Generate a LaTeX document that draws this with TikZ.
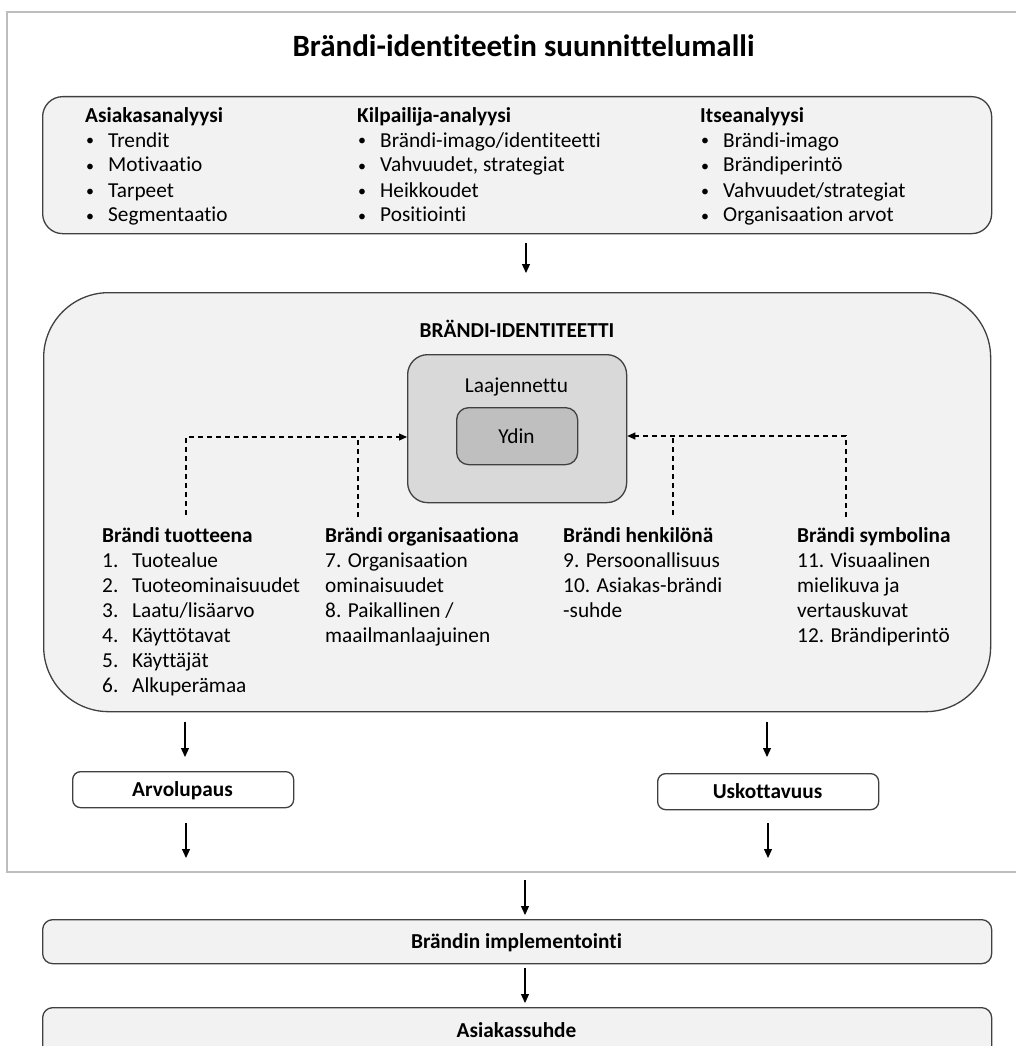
\documentclass[tikz,border=0pt]{standalone}
\usepackage{fontspec}
\setmainfont{Carlito}[Ligatures=NoCommon]
\usetikzlibrary{arrows.meta,calc}
\definecolor{panelfill}{HTML}{F2F2F2}
\definecolor{boxline}{HTML}{404040}
\definecolor{framegray}{HTML}{BDBDBD}
\definecolor{outerfill}{HTML}{D9D9D9}
\definecolor{corefill}{HTML}{BFBFBF}
\newcommand{\bul}{\makebox[23pt][l]{\hspace{1pt}\raisebox{1pt}{\fontsize{16}{16}\selectfont\textbullet}}}
\newcommand{\numit}[1]{\makebox[30pt][l]{#1}}
\begin{document}
\begin{tikzpicture}[x=1pt,y=-1pt,
  panel/.style={draw=boxline, fill=panelfill, line width=1.3pt, inner sep=0pt, anchor=north west},
  txt/.style={inner sep=0pt, anchor=base west, font=\fontsize{21.3}{25}\selectfont},
  lbl/.style={inner sep=0pt, anchor=base, font=\fontsize{21.3}{25}\selectfont\bfseries},
  arr/.style={-{Triangle[length=9pt,width=8pt]}, line width=1.2pt},
  darr/.style={-{Triangle[length=8pt,width=7pt]}, line width=1.1pt, dash pattern=on 5pt off 4pt},
  dline/.style={line width=1.1pt, dash pattern=on 5pt off 4pt}]
\useasboundingbox (0,0) rectangle (1016,1046);
\clip (0,0) rectangle (1016,1046);
\fill[white] (0,0) rectangle (1016,1046);

% outer frame, open on the right
\draw[framegray, line width=1.5pt] (1030,12) -- (7,12) -- (7,872) -- (1030,872);

% title
\node[inner sep=0pt, anchor=base, font=\fontsize{31}{36}\selectfont\bfseries] (title) at (523.5,57) {Brändi-identiteetin suunnittelumalli};

% analysis panel
\node[panel, rounded corners=20pt, minimum width=949pt, minimum height=137pt] (analysis) at (42,96) {};
\node[txt] (asiakas) at (85,122) {\begin{tabular}[t]{@{}l@{}}\textbf{Asiakasanalyysi}\\\bul Trendit\\\bul Motivaatio\\\bul Tarpeet\\\bul Segmentaatio\end{tabular}};
\node[txt] (kilpailija) at (357,122) {\begin{tabular}[t]{@{}l@{}}\textbf{Kilpailija-analyysi}\\\bul Brändi-imago/identiteetti\\\bul Vahvuudet, strategiat\\\bul Heikkoudet\\\bul Positiointi\end{tabular}};
\node[txt] (itse) at (700,122) {\begin{tabular}[t]{@{}l@{}}\textbf{Itseanalyysi}\\\bul Brändi-imago\\\bul Brändiperintö\\\bul Vahvuudet/strategiat\\\bul Organisaation arvot\end{tabular}};

% brand identity panel
\node[panel, rounded corners=65pt, minimum width=947pt, minimum height=419pt] (identity) at (43,292) {};
\node[lbl] (idtitle) at (517,337) {BRÄNDI-IDENTITEETTI};
\node[panel, fill=outerfill, rounded corners=20pt, minimum width=219pt, minimum height=148pt] (laaj) at (407,354) {};
\node[txt, anchor=base] (laajtxt) at (516.5,392) {Laajennettu};
\node[panel, fill=corefill, rounded corners=12pt, minimum width=121pt, minimum height=57pt] (ydin) at (456,407) {};
\node[txt, anchor=base] (ydintxt) at (516.5,443) {Ydin};

% four perspectives
\node[txt] (tuote) at (102,542) {\begin{tabular}[t]{@{}l@{}}\textbf{Brändi tuotteena}\\\numit{1.}Tuotealue\\\numit{2.}Tuoteominaisuudet\\\numit{3.}Laatu/lisäarvo\\\numit{4.}Käyttötavat\\\numit{5.}Käyttäjät\\\numit{6.}Alkuperämaa\end{tabular}};
\node[txt] (organ) at (325,542) {\begin{tabular}[t]{@{}l@{}}\textbf{Brändi organisaationa}\\7. Organisaation\\ominaisuudet\\8. Paikallinen /\\maailmanlaajuinen\end{tabular}};
\node[txt] (henk) at (563,542) {\begin{tabular}[t]{@{}l@{}}\textbf{Brändi henkilönä}\\9. Persoonallisuus\\10. Asiakas-brändi\\-suhde\end{tabular}};
\node[txt] (symb) at (797,542) {\begin{tabular}[t]{@{}l@{}}\textbf{Brändi symbolina}\\11. Visuaalinen\\mielikuva ja\\vertauskuvat\\12. Brändiperintö\end{tabular}};

% dashed feeds into the extended identity
\coordinate (tuoteTop) at (186,515);
\coordinate (organTop) at (358,517);
\coordinate (henkTop) at (673,515);
\coordinate (symbTop) at (846,517);
\draw[darr] (tuoteTop) |- (laaj.west |- 0,437);
\draw[dline] (organTop) -- (organTop |- 0,437);
\draw[darr] (symbTop) |- (laaj.east |- 0,436);
\draw[dline] (henkTop) -- (henkTop |- 0,436);

% outcome boxes
\node[panel, fill=white, rounded corners=8pt, minimum width=221pt, minimum height=36pt] (arvo) at (72,771) {};
\node[lbl] (arvotxt) at (182.5,796) {Arvolupaus};
\node[panel, fill=white, rounded corners=8pt, minimum width=221pt, minimum height=36pt] (usko) at (657,773) {};
\node[lbl] (uskotxt) at (767.5,798) {Uskottavuus};

\node[panel, rounded corners=10pt, minimum width=949pt, minimum height=44pt] (impl) at (42,919) {};
\node[lbl] (impltxt) at (516.5,948) {Brändin implementointi};
\node[panel, rounded corners=10pt, minimum width=949pt, minimum height=60pt] (suhde) at (42,1007) {};
\node[lbl] (suhdetxt) at (516.5,1037) {Asiakassuhde};

% solid arrows
\draw[arr] (526,243) coordinate (a1) -- (526,273) coordinate (a1e);
\draw[arr] (185,722) coordinate (a2) -- (185,757) coordinate (a2e);
\draw[arr] (186,823) coordinate (a3) -- (186,858) coordinate (a3e);
\draw[arr] (767,722) coordinate (a4) -- (767,757) coordinate (a4e);
\draw[arr] (768,823) coordinate (a5) -- (768,858) coordinate (a5e);
\draw[arr] (525,880) coordinate (a6) -- (525,915) coordinate (a6e);
\draw[arr] (525,968) coordinate (a7) -- (525,1003) coordinate (a7e);
\end{tikzpicture}
\end{document}
